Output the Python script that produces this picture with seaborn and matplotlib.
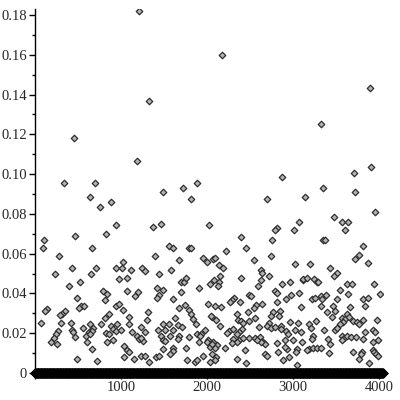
import numpy as np
import pandas as pd
import matplotlib
matplotlib.use('Agg')
import matplotlib.pyplot as plt
import seaborn as sns
from matplotlib.ticker import MultipleLocator, FuncFormatter

# non-zero samples (index, value)
x_hi = [760, 942, 826, 105, 461, 97, 663, 283, 430, 709, 942, 1012, 1020, 229, 655, 981,
        523, 399, 787, 834, 492, 811, 942, 981, 539, 570, 515, 143, 120, 345, 314, 291,
        1020, 857, 818, 306, 66, 415, 640, 771, 957, 887, 562, 678, 430, 903, 942, 996,
        267, 446, 624, 663, 826, 864, 244, 593, 640, 469, 221, 190, 259, 608, 834, 911,
        663, 1035, 485, 725, 1035, 880,
        337, 454, 640, 701, 1183, 1206, 1322, 1492, 1725, 1811, 1880,
        2171, 3900, 3330, 2876, 3713, 3911, 3349, 3721, 2702, 3136,
        1368, 1462, 2027, 1562, 1609, 1787, 1818, 1392, 1678, 1957, 2004, 2074, 1120,
        1244, 1283, 1578, 1438, 1073, 1702, 1733, 1756, 2035, 1911, 1423, 1485, 1066,
        1198, 1167, 1702, 1438, 1415, 1609, 2012, 1741, 1678, 1314, 1795, 1818, 1097,
        2058, 1841, 1632, 1299, 1097, 1492, 1555, 1663, 1710, 1872, 1128, 1229, 1430,
        1516, 1609, 1283, 1980, 1183, 1213, 1252, 1229, 1462, 1485, 1508, 1570, 1787,
        1671, 1663, 1880, 1934, 1919, 1904, 2012, 2004, 1756, 1601, 1609, 1485, 1066,
        1090, 1151, 1229, 1283, 1330, 1407, 1446, 1570, 1764, 1857, 1880, 2035, 1950,
        2058, 2035,
        3074, 2818, 2795, 3012, 2392, 2756, 2454, 2221, 2741, 2547, 2090, 3027, 2144,
        2183, 2625, 2640, 2725, 2400, 2152, 2082, 2136, 2632, 2966, 2873, 2594, 3120,
        2128, 2795, 2818, 3066, 2981, 2485, 2516, 2314, 2291, 2268, 2919, 2384, 2810,
        2640, 3097, 2570, 2547, 2097, 2167, 2477, 2764, 2741, 2849, 2841, 2345, 2361,
        2051, 2105, 2555, 2392, 2423, 2492, 2718, 2702, 2741, 2788, 2857, 2864, 2966,
        3058, 2152, 2609, 2260, 2237, 2306, 2407, 2376, 2353, 2919, 2942, 3020, 3097,
        2492, 2562, 2617, 2655, 2678, 2625, 2578, 2299, 2376, 2415, 2345, 2291, 2810,
        2911, 2997, 2074, 2120, 2090, 2058, 2214, 2439, 2671, 2694, 2826, 2927, 2903,
        3051, 3035, 2950, 2888, 2345, 2454, 2105, 2090, 3043,
        3950, 3477, 3570, 3640, 3601, 3346, 3376, 3811, 3772, 3725, 3872, 3198, 3430,
        3508, 3477, 3120, 3159, 3244, 3276, 3291, 3632, 3687, 3942, 3547, 3640, 4005,
        3222, 3253, 3330, 3338, 3384, 3811, 3872, 3516, 3322, 3462, 3485, 3663, 3841,
        3392, 3454, 3625, 3563, 3601, 3586, 3547, 3648, 3694, 3741, 3764, 3818, 3973,
        3268, 3190, 3206, 3361, 3485, 3508, 3841, 3927, 3950, 3229, 3222, 3570, 3594,
        3632, 3679, 3733, 3563, 3407, 3818, 3989, 3927, 3105, 3430, 3183, 3229, 3276,
        3330, 3167, 3415, 3702, 3803, 3788, 3927, 3942, 3965, 3764, 3880, 3989]

y_hi = [0.0837, 0.0744, 0.0700, 0.0670, 0.0690, 0.0627, 0.0627, 0.0590, 0.0530, 0.0530,
        0.0530, 0.0530, 0.0557, 0.0500, 0.0500, 0.0473, 0.0456, 0.0437, 0.0412, 0.0396,
        0.0379, 0.0365, 0.0339, 0.0349, 0.0337, 0.0339, 0.0325, 0.0322, 0.0312, 0.0312,
        0.0298, 0.0292, 0.0315, 0.0295, 0.0275, 0.0252, 0.0253, 0.0250, 0.0248, 0.0248,
        0.0244, 0.0238, 0.0228, 0.0228, 0.0215, 0.0221, 0.0211, 0.0215, 0.0211, 0.0205,
        0.0205, 0.0211, 0.0201, 0.0195, 0.0198, 0.0188, 0.0195, 0.0181, 0.0175, 0.0154,
        0.0144, 0.0154, 0.0158, 0.0164, 0.0121, 0.0134, 0.0070, 0.0060, 0.0080, 0.0862,
        0.0954, 0.1180, 0.0884, 0.0954, 0.1066, 0.1820, 0.1366, 0.0910, 0.0932, 0.0873,
        0.0954,
        0.1600, 0.1432, 0.1252, 0.0984, 0.1004, 0.1038, 0.0929, 0.0912, 0.0875, 0.0885,
        0.0734, 0.0748, 0.0744, 0.0640, 0.0627, 0.0627, 0.0627, 0.0590, 0.0567, 0.0577,
        0.0560, 0.0573, 0.0517, 0.0530, 0.0513, 0.0520, 0.0500, 0.0479, 0.0456, 0.0456,
        0.0479, 0.0446, 0.0426, 0.0426, 0.0419, 0.0412, 0.0409, 0.0389, 0.0409, 0.0392,
        0.0375, 0.0372, 0.0349, 0.0342, 0.0325, 0.0308, 0.0315, 0.0298, 0.0282, 0.0282,
        0.0272, 0.0275, 0.0265, 0.0248, 0.0248, 0.0248, 0.0241, 0.0231, 0.0248, 0.0208,
        0.0231, 0.0215, 0.0215, 0.0215, 0.0208, 0.0215, 0.0185, 0.0171, 0.0161, 0.0178,
        0.0185, 0.0168, 0.0161, 0.0185, 0.0181, 0.0185, 0.0171, 0.0198, 0.0198, 0.0185,
        0.0154, 0.0168, 0.0154, 0.0127, 0.0127, 0.0110, 0.0121, 0.0114, 0.0104, 0.0070,
        0.0084, 0.0087, 0.0057, 0.0080, 0.0087, 0.0097, 0.0063, 0.0054, 0.0063, 0.0054,
        0.0087, 0.0097, 0.0131,
        0.0758, 0.0731, 0.0718, 0.0718, 0.0684, 0.0670, 0.0627, 0.0614, 0.0590, 0.0570,
        0.0577, 0.0550, 0.0543, 0.0530, 0.0517, 0.0503, 0.0486, 0.0479, 0.0486, 0.0469,
        0.0456, 0.0469, 0.0456, 0.0446, 0.0439, 0.0469, 0.0436, 0.0412, 0.0402, 0.0402,
        0.0392, 0.0392, 0.0389, 0.0379, 0.0369, 0.0359, 0.0372, 0.0356, 0.0359, 0.0346,
        0.0332, 0.0342, 0.0325, 0.0339, 0.0332, 0.0305, 0.0305, 0.0288, 0.0312, 0.0285,
        0.0298, 0.0268, 0.0285, 0.0268, 0.0278, 0.0262, 0.0252, 0.0262, 0.0252, 0.0235,
        0.0228, 0.0231, 0.0235, 0.0221, 0.0255, 0.0252, 0.0235, 0.0231, 0.0211, 0.0201,
        0.0221, 0.0221, 0.0208, 0.0198, 0.0211, 0.0198, 0.0215, 0.0205, 0.0178, 0.0178,
        0.0181, 0.0158, 0.0144, 0.0158, 0.0168, 0.0171, 0.0164, 0.0174, 0.0154, 0.0151,
        0.0151, 0.0164, 0.0168, 0.0158, 0.0141, 0.0127, 0.0144, 0.0127, 0.0114, 0.0097,
        0.0084, 0.0107, 0.0121, 0.0131, 0.0121, 0.0107, 0.0080, 0.0063, 0.0070, 0.0050,
        0.0080, 0.0067, 0.0040,
        0.0811, 0.0785, 0.0761, 0.0758, 0.0718, 0.0670, 0.0670, 0.0640, 0.0594, 0.0573,
        0.0553, 0.0547, 0.0530, 0.0503, 0.0490, 0.0473, 0.0479, 0.0473, 0.0460, 0.0456,
        0.0449, 0.0449, 0.0449, 0.0416, 0.0396, 0.0396, 0.0372, 0.0375, 0.0389, 0.0372,
        0.0392, 0.0372, 0.0379, 0.0372, 0.0339, 0.0339, 0.0312, 0.0332, 0.0339, 0.0305,
        0.0282, 0.0295, 0.0275, 0.0272, 0.0255, 0.0248, 0.0282, 0.0262, 0.0255, 0.0245,
        0.0268, 0.0268, 0.0262, 0.0245, 0.0228, 0.0215, 0.0215, 0.0225, 0.0208, 0.0218,
        0.0205, 0.0188, 0.0171, 0.0188, 0.0178, 0.0185, 0.0181, 0.0181, 0.0164, 0.0171,
        0.0171, 0.0168, 0.0158, 0.0154, 0.0144, 0.0121, 0.0124, 0.0124, 0.0124, 0.0114,
        0.0101, 0.0107, 0.0107, 0.0094, 0.0117, 0.0107, 0.0094, 0.0070, 0.0050, 0.0084]

# the rest of the samples are zero and form the black band along the x axis
x_zero = np.arange(0, 4050, 5)
y_zero = np.zeros(len(x_zero))

df_hi = pd.DataFrame({'n': x_hi, 'v': y_hi})
df_zero = pd.DataFrame({'n': x_zero, 'v': y_zero})

sns.set_style('ticks')
plt.rcParams['font.family'] = ['Liberation Serif', 'DejaVu Serif']

fig = plt.figure(figsize=(4, 4), dpi=100)
ax = fig.add_axes([0.0875, 0.0675, 0.871, 0.91])

mk = dict(marker='D', s=11, facecolor='#b4b4b4', edgecolor='#2e2e2e', linewidth=0.9)
sns.scatterplot(data=df_hi, x='n', y='v', ax=ax, **mk)
sns.scatterplot(data=df_zero, x='n', y='v', ax=ax, clip_on=False, zorder=5,
                marker='D', s=20, facecolor='black', edgecolor='black', linewidth=1.0)

ax.set_xlim(0, 4050)
ax.set_ylim(0, 0.183)
ax.set_xlabel('')
ax.set_ylabel('')
sns.despine(ax=ax)
for sp in ['left', 'bottom']:
    ax.spines[sp].set_color('black')
    ax.spines[sp].set_linewidth(1.0)

ax.xaxis.set_major_locator(MultipleLocator(1000))
ax.xaxis.set_minor_locator(MultipleLocator(250))
ax.yaxis.set_major_locator(MultipleLocator(0.02))
ax.yaxis.set_minor_locator(MultipleLocator(0.01))
ax.yaxis.set_major_formatter(FuncFormatter(lambda v, p: '0' if abs(v) < 1e-9 else f'{v:.2f}'))
ax.xaxis.set_major_formatter(FuncFormatter(lambda v, p: '' if v == 0 else f'{v:.0f}'))
ax.tick_params(axis='both', which='major', length=4, width=1, color='black', labelsize=10.5, pad=2)
ax.tick_params(axis='both', which='minor', length=2, width=1, color='black')

fig.savefig('out.png', dpi=100)
